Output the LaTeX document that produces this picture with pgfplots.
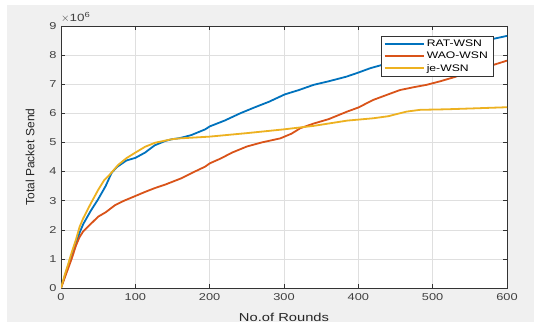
\documentclass[border=0pt]{standalone}
\usepackage{pgfplots}
\pgfplotsset{compat=1.18}
\usepackage{fontspec}
\setmainfont[FakeStretch=1.28]{Liberation Sans}
\newfontfamily\plainfont{Liberation Sans}
\definecolor{mblue}{HTML}{0072BD}
\definecolor{morange}{HTML}{D95319}
\definecolor{myellow}{HTML}{EDB120}
\definecolor{figgray}{HTML}{F0F0F0}
\begin{document}
\begin{tikzpicture}[x=1pt,y=1pt]
\fill[white] (0,0) rectangle (534,324);
\fill[figgray] (7,2) rectangle (534,319);
\begin{axis}[
  at={(61pt,36pt)}, anchor=south west,
  scale only axis, width=446pt, height=262pt,
  xmin=0, xmax=600, ymin=0, ymax=9,
  xtick={0,100,...,600}, ytick={0,1,...,9},
  /pgf/number format/assume math mode=true,
  scaled ticks=false,
  axis background/.style={fill=white},
  tick align=inside, tick pos=both,
  major tick length=4pt,
  grid=major, grid style={gray!25, line width=0.5pt},
  axis line style={black!80, line width=0.6pt},
  tick style={black!80, line width=0.5pt},
  ticklabel style={font=\fontsize{10}{12}\selectfont, text=black!75},
  xticklabel style={yshift=-2pt},
  yticklabel style={xshift=-1pt},
  xlabel={No.of Rounds}, ylabel={Total Packet Send},
  every axis x label/.style={at={(axis description cs:0.5,-0.111)}, anchor=center,
    font=\fontsize{11.5}{13}\selectfont, text=black!85},
  every axis y label/.style={at={(axis description cs:-0.0695,0.5)}, anchor=center, rotate=90,
    font=\plainfont\fontsize{12}{14}\selectfont, text=black!85},
  every axis plot/.append style={line width=1.8pt},
  legend style={at={(0.9686,0.963)}, anchor=north east, draw=black!80,
    font=\fontsize{9.5}{12}\selectfont, inner xsep=3pt, inner ysep=2pt},
  legend cell align=left,
  legend image post style={xscale=2.3},
  clip mode=individual,
]
\addplot[color=mblue] coordinates {
(0,0) (5,0.4) (10,0.8) (15,1.15) (20,1.5) (25,1.9) (30,2.2) (40,2.65) (50,3.05) (60,3.5)
(68,3.95) (75,4.15) (88,4.38) (100,4.47) (113,4.65) (126,4.9) (140,5.05) (149,5.11) (160,5.15)
(175,5.25) (194,5.45) (200,5.55) (220,5.75) (241,6.0) (260,6.2) (280,6.4) (301,6.65) (320,6.8)
(340,6.98) (360,7.1) (384,7.26) (400,7.4) (416,7.55) (430,7.65) (460,7.9) (490,8.1) (520,8.3)
(550,8.45) (580,8.55) (600,8.66)};
\addlegendentry{RAT-WSN}
\addplot[color=morange] coordinates {
(0,0) (5,0.35) (10,0.7) (15,1.05) (20,1.45) (25,1.75) (30,1.95) (40,2.2) (50,2.45) (60,2.6)
(73,2.85) (85,3.0) (100,3.16) (113,3.3) (126,3.43) (140,3.55) (162,3.77) (180,4.0) (194,4.17)
(200,4.28) (215,4.45) (230,4.65) (250,4.86) (270,5.0) (295,5.14) (310,5.3) (322,5.49) (340,5.65)
(360,5.8) (385,6.06) (400,6.2) (420,6.46) (440,6.65) (456,6.8) (475,6.9) (492,6.98) (510,7.1)
(530,7.25) (555,7.49) (580,7.65) (600,7.81)};
\addlegendentry{WAO-WSN}
\addplot[color=myellow] coordinates {
(0,0) (5,0.45) (10,0.85) (14,1.19) (20,1.65) (25,2.1) (30,2.4) (40,2.9) (50,3.37) (58,3.7)
(64,3.85) (77,4.23) (88,4.46) (100,4.65) (113,4.85) (126.5,4.99) (149,5.11) (160,5.14) (200,5.2)
(250,5.32) (300,5.45) (340,5.57) (385,5.75) (420,5.83) (440,5.9) (465,6.06) (483,6.12) (520,6.14)
(555,6.17) (600,6.21)};
\addlegendentry{je-WSN}
\node[anchor=south west, inner sep=0pt, font=\fontsize{10.5}{12}\selectfont, text=black!75] at (axis description cs:0,1.012) {$\times$10\textsuperscript{6}};
\end{axis}
\end{tikzpicture}
\end{document}
